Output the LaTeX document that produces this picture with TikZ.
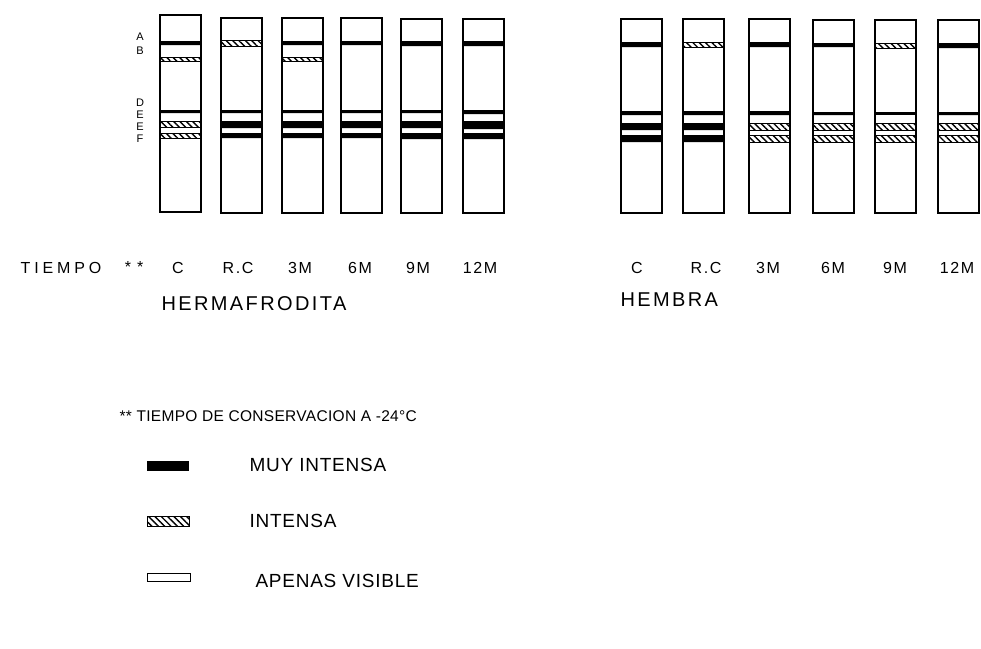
\documentclass[tikz,border=0pt]{standalone}
\usepackage{fontspec}
\setmainfont{Liberation Sans}
\usepackage{tikz}
\usetikzlibrary{patterns.meta}
\tikzset{
  laneBox/.style={draw=black, line width=1.6pt},
  bandDark/.style={fill=black},
  bandHatch/.style={draw=black, line width=1pt,
    pattern={Lines[angle=-45,distance=4.5pt,line width=1.4pt]}},
  laneLabel/.style={font=\fontsize{16}{18}\selectfont\addfontfeature{LetterSpace=10}},
  groupLabel/.style={font=\fontsize{20}{22}\selectfont\addfontfeature{LetterSpace=12}, anchor=west},
  noteText/.style={font=\fontsize{15.5}{17}\selectfont\addfontfeature{LetterSpace=2}, anchor=west},
  legendText/.style={font=\fontsize{19}{21}\selectfont\addfontfeature{LetterSpace=4}, anchor=west},
  bandLetter/.style={font=\fontsize{11}{11}\selectfont, inner sep=0pt}
}

\begin{document}
\begin{tikzpicture}[x=1pt, y=-1pt]
  \useasboundingbox (0,0) rectangle (981,648);
  \def\w{41}

  % hermafrodita
  \begin{scope}[xshift=160pt]
    \draw[laneBox] (0,15) rectangle (\w,212);
    \fill[bandDark] (0,41) rectangle (\w,45) (0,110) rectangle (\w,113);
    \draw[bandHatch] (0,57) rectangle (\w,61) (0,121) rectangle (\w,127) (0,133) rectangle (\w,138);
  \end{scope}
  \begin{scope}[xshift=221pt]
    \draw[laneBox] (0,18) rectangle (\w,213);
    \fill[bandDark] (0,110) rectangle (\w,113) (0,121) rectangle (\w,128) (0,133) rectangle (\w,138);
    \draw[bandHatch] (0,40) rectangle (\w,46);
  \end{scope}
  \begin{scope}[xshift=282pt]
    \draw[laneBox] (0,18) rectangle (\w,213);
    \fill[bandDark] (0,41) rectangle (\w,45) (0,110) rectangle (\w,113) (0,121) rectangle (\w,128) (0,133) rectangle (\w,138);
    \draw[bandHatch] (0,57) rectangle (\w,61);
  \end{scope}
  \begin{scope}[xshift=341pt]
    \draw[laneBox] (0,18) rectangle (\w,213);
    \fill[bandDark] (0,41) rectangle (\w,45) (0,110) rectangle (\w,113) (0,121) rectangle (\w,128) (0,133) rectangle (\w,138);
  \end{scope}
  \begin{scope}[xshift=401pt]
    \draw[laneBox] (0,19) rectangle (\w,213);
    \fill[bandDark] (0,41) rectangle (\w,46) (0,110) rectangle (\w,113) (0,121) rectangle (\w,128) (0,133) rectangle (\w,139);
  \end{scope}
  \begin{scope}[xshift=463pt]
    \draw[laneBox] (0,19) rectangle (\w,213);
    \fill[bandDark] (0,41) rectangle (\w,46) (0,110) rectangle (\w,114) (0,121) rectangle (\w,129) (0,133) rectangle (\w,139);
  \end{scope}

  % hembra
  \begin{scope}[xshift=621pt]
    \draw[laneBox] (0,19) rectangle (\w,213);
    \fill[bandDark] (0,42) rectangle (\w,47) (0,111) rectangle (\w,115) (0,123) rectangle (\w,130) (0,135) rectangle (\w,142);
  \end{scope}
  \begin{scope}[xshift=683pt]
    \draw[laneBox] (0,19) rectangle (\w,213);
    \fill[bandDark] (0,111) rectangle (\w,115) (0,123) rectangle (\w,130) (0,135) rectangle (\w,142);
    \draw[bandHatch] (0,42) rectangle (\w,47);
  \end{scope}
  \begin{scope}[xshift=749pt]
    \draw[laneBox] (0,19) rectangle (\w,213);
    \fill[bandDark] (0,42) rectangle (\w,47) (0,111) rectangle (\w,115);
    \draw[bandHatch] (0,123) rectangle (\w,130) (0,135) rectangle (\w,142);
  \end{scope}
  \begin{scope}[xshift=813pt]
    \draw[laneBox] (0,20) rectangle (\w,213);
    \fill[bandDark] (0,43) rectangle (\w,47) (0,112) rectangle (\w,115);
    \draw[bandHatch] (0,123) rectangle (\w,130) (0,135) rectangle (\w,142);
  \end{scope}
  \begin{scope}[xshift=875pt]
    \draw[laneBox] (0,20) rectangle (\w,213);
    \fill[bandDark] (0,112) rectangle (\w,115);
    \draw[bandHatch] (0,43) rectangle (\w,48) (0,123) rectangle (\w,130) (0,135) rectangle (\w,142);
  \end{scope}
  \begin{scope}[xshift=938pt]
    \draw[laneBox] (0,20) rectangle (\w,213);
    \fill[bandDark] (0,43) rectangle (\w,48) (0,112) rectangle (\w,115);
    \draw[bandHatch] (0,123) rectangle (\w,130) (0,135) rectangle (\w,142);
  \end{scope}

  \node[bandLetter] (lA) at (140,37) {A};
  \node[bandLetter] (lB) at (140,51) {B};
  \node[bandLetter] (lD) at (140,103) {D};
  \node[bandLetter] (lE) at (140,115) {E};
  \node[bandLetter] (lE2) at (140,127) {E};
  \node[bandLetter] (lF) at (140,139) {F};

  \node[laneLabel] (tiempo) at (61,268) {\addfontfeature{LetterSpace=24}TIEMPO};
  \node[laneLabel] (stars) at (134,267) {* *};
  \node[laneLabel] (hC) at (178,268) {C};
  \node[laneLabel] (hRC) at (238,268) {R.C};
  \node[laneLabel] (h3) at (300,268) {3M};
  \node[laneLabel] (h6) at (360,268) {6M};
  \node[laneLabel] (h9) at (418,268) {9M};
  \node[laneLabel] (h12) at (480,268) {12M};
  \node[laneLabel] (fC) at (637,268) {C};
  \node[laneLabel] (fRC) at (706,268) {R.C};
  \node[laneLabel] (f3) at (768,268) {3M};
  \node[laneLabel] (f6) at (833,268) {6M};
  \node[laneLabel] (f9) at (895,268) {9M};
  \node[laneLabel] (f12) at (957,268) {12M};

  \node[groupLabel] (herm) at (158,304) {HERMAFRODITA};
  \node[groupLabel] (hemb) at (617,300) {HEMBRA};

  \node[noteText] (nota) at (116,416) {** TIEMPO DE CONSERVACION A -24°C};

  \fill[bandDark] (147,461) rectangle (189,471);
  \draw[bandHatch] (147,516) rectangle (189,526);
  \draw[line width=1pt] (147,573) rectangle (190,581);
  \node[legendText] (muy) at (246,465) {MUY INTENSA};
  \node[legendText] (int) at (246,521) {INTENSA};
  \node[legendText] (ape) at (252,581) {APENAS VISIBLE};
\end{tikzpicture}
\end{document}
